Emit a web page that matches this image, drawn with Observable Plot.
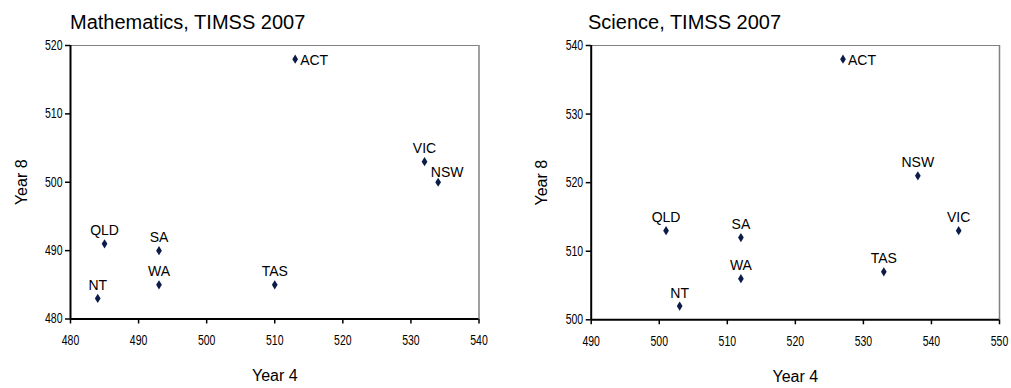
<!DOCTYPE html>
<html>
<head>
<meta charset="utf-8">
<script src="https://cdn.jsdelivr.net/npm/d3@7"></script>
<script src="https://cdn.jsdelivr.net/npm/@observablehq/plot@0.6"></script>
<style>
  body { margin: 0; background: #fff; }
  #wrap { position: relative; width: 1011px; height: 388px; font-family: "Liberation Sans", Arial, sans-serif; background: #fff; }
  .title { position: absolute; top: 11px; font-size: 20px; line-height: 22px; color: #000; white-space: nowrap; z-index: 2; }
  .panel { position: absolute; top: 0; z-index: 1; }
</style>
</head>
<body>
<div id="wrap">
  <div class="title" style="left:70px">Mathematics, TIMSS 2007</div>
  <div class="title" style="left:588px">Science, TIMSS 2007</div>
  <div class="panel" id="p1" style="left:0px"></div>
  <div class="panel" id="p2" style="left:505px"></div>
</div>
<script>
// ---- data ----
const states = ["ACT", "VIC", "NSW", "QLD", "SA", "WA", "TAS", "NT"];
const mathYear4 = [513, 532, 534, 485, 493, 493, 510, 484];
const mathYear8 = [518, 503, 500, 491, 490, 485, 485, 483];
const sciYear4  = [527, 544, 538, 501, 512, 512, 533, 503];
const sciYear8  = [538, 513, 521, 513, 512, 506, 507, 502];
const mathXTicks = [480, 490, 500, 510, 520, 530, 540];
const mathYTicks = [480, 490, 500, 510, 520];
const sciXTicks  = [490, 500, 510, 520, 530, 540, 550];
const sciYTicks  = [500, 510, 520, 530, 540];

const tallDiamond = {
  draw(context, size) {
    const h = Math.sqrt(size) * 0.62, w = h * 0.62;
    context.moveTo(0, -h);
    context.lineTo(w, 0);
    context.lineTo(0, h);
    context.lineTo(-w, 0);
    context.closePath();
  }
};

function panel(x4, y8, xTicks, yTicks, opts) {
  const data = states.map((s, i) => ({state: s, x: x4[i], y: y8[i]}));
  const xd = [xTicks[0], xTicks[xTicks.length - 1]];
  const yd = [yTicks[0], yTicks[yTicks.length - 1]];
  const navy = "#0c1c48";
  const shifted = opts.shifted || [];
  return Plot.plot({
    width: opts.width,
    height: 388,
    marginLeft: opts.ml,
    marginRight: opts.mr,
    marginTop: 45,
    marginBottom: opts.mb,
    style: {fontFamily: "'Liberation Sans', Arial, sans-serif", background: "transparent", overflow: "visible"},
    x: {domain: xd},
    y: {domain: yd},
    marks: [
      Plot.axisX(xTicks, {tickSize: 5, tickPadding: 11, fontSize: 14, label: null, stroke: "#000", strokeWidth: 1.5, fill: "#000"}),
      Plot.axisY(yTicks, {tickSize: 5, tickPadding: 3, fontSize: 14, label: null, stroke: "#000", strokeWidth: 1.5, fill: "#000"}),
      Plot.axisX({ticks: [], tickSize: 0, label: "Year 4", labelAnchor: "center", labelOffset: 62, labelArrow: "none", fontSize: 16, fill: "#000"}),
      Plot.axisY({ticks: [], tickSize: 0, label: "Year 8", labelAnchor: "center", labelOffset: opts.ylo, labelArrow: "none", fontSize: 16, fill: "#000"}),
      Plot.ruleY([yd[1]], {stroke: "#808080", strokeWidth: 1}),
      Plot.ruleX([xd[1]], {stroke: "#808080", strokeWidth: 1.5}),
      Plot.ruleX([xd[0]], {stroke: "#000", strokeWidth: 2}),
      Plot.ruleY([yd[0]], {stroke: "#000", strokeWidth: 2}),
      Plot.dot(data, {x: "x", y: "y", symbol: tallDiamond, r: 4.2, fill: navy, stroke: "none"}),
      Plot.text(data.filter(d => d.state === "ACT"), {x: "x", y: "y", text: "state", dx: 5, dy: 1, textAnchor: "start", fontSize: 14, fill: "#000"}),
      Plot.text(data.filter(d => d.state !== "ACT" && !shifted.includes(d.state)), {x: "x", y: "y", text: "state", dy: -13, fontSize: 14, fill: "#000"}),
      Plot.text(data.filter(d => shifted.includes(d.state)), {x: "x", y: "y", text: "state", dy: -10, dx: 9, fontSize: 14, fill: "#000"})
    ]
  });
}

const p1 = panel(mathYear4, mathYear8, mathXTicks, mathYTicks, {width: 505, ml: 70, mr: 26.5, mb: 69.5, ylo: 55, shifted: ["NSW"]});
const p2 = panel(sciYear4, sciYear8, sciXTicks, sciYTicks, {width: 506, ml: 85.7, mr: 12, mb: 68.7, ylo: 56});
document.getElementById("p1").appendChild(p1);
document.getElementById("p2").appendChild(p2);

// condense tick label digits (Arial Narrow look)
for (const svg of [p1, p2]) {
  svg.querySelectorAll("text").forEach(t => {
    const txt = t.textContent.trim();
    if (!/^\d{3}$/.test(txt)) return;
    const tr = t.getAttribute("transform");
    if (tr) {
      t.setAttribute("transform", tr + " scale(0.75,1)");
    } else {
      const x = +(t.getAttribute("x") || 0), y = +(t.getAttribute("y") || 0);
      t.removeAttribute("x"); t.removeAttribute("y");
      t.setAttribute("transform", `translate(${x},${y}) scale(0.75,1)`);
    }
  });
  svg.querySelectorAll("text").forEach(t => {
    t.textContent = t.textContent.replace(/[\u2190-\u2193]/g, "").trim();
  });
}
</script>
</body>
</html>
